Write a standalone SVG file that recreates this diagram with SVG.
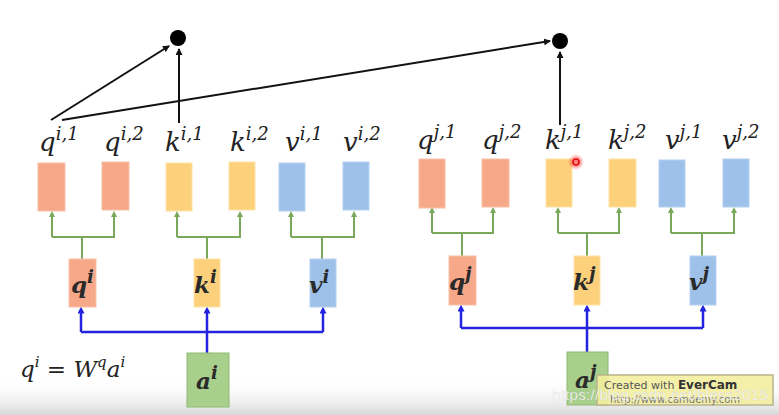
<svg xmlns="http://www.w3.org/2000/svg" width="779" height="415" viewBox="0 0 779 415">
<defs>
<style>
.bq{fill:#f7a888;stroke:#f6c0a8;stroke-width:1}
.bk{fill:#fdd17c;stroke:#fde2a6;stroke-width:1}
.bv{fill:#9ec1ea;stroke:#b5d0f0;stroke-width:1}
.ba{fill:#a8cf8c;stroke:#8fb873;stroke-width:1}
.lbl{font-family:"DejaVu Serif","Liberation Serif",serif;font-style:italic;font-size:26px;fill:#222}
.sup{font-size:18px}
.inb{font-family:"DejaVu Serif","Liberation Serif",serif;font-style:italic;font-weight:bold;font-size:23px;fill:#2a2a2a}
.g{fill:none;stroke:#79a85a;stroke-width:2}
.b{fill:none;stroke:#2424e0;stroke-width:2.5}
.k{fill:none;stroke:#111;stroke-width:2}
</style>
<marker id="ag" markerWidth="6" markerHeight="6" refX="3" refY="3" orient="auto" markerUnits="userSpaceOnUse"><path d="M0,0 L6,3 L0,6 z" fill="#79a85a"/></marker>
<marker id="ab" markerWidth="7" markerHeight="7" refX="3.5" refY="3.5" orient="auto" markerUnits="userSpaceOnUse"><path d="M0,0 L7,3.5 L0,7 z" fill="#2424e0"/></marker>
<marker id="ak" markerWidth="7" markerHeight="7" refX="6" refY="3.5" orient="auto" markerUnits="userSpaceOnUse"><path d="M0,0 L7,3.5 L0,7 z" fill="#111"/></marker>
<linearGradient id="shade" x1="0" y1="0" x2="0" y2="1"><stop offset="0" stop-color="#ffffff" stop-opacity="0"/><stop offset="1" stop-color="#d8d8d8"/></linearGradient>
<radialGradient id="glow"><stop offset="0.4" stop-color="#ff3030" stop-opacity="0.6"/><stop offset="1" stop-color="#ff3030" stop-opacity="0"/></radialGradient>
</defs>
<rect width="779" height="415" fill="#ffffff"/>
<rect x="0" y="378" width="779" height="37" fill="url(#shade)"/>

<g id="connectors">
<line class="k" x1="51" y1="120" x2="169" y2="46" marker-end="url(#ak)"/>
<line class="k" x1="62" y1="120" x2="550" y2="41" marker-end="url(#ak)"/>
<line class="k" x1="179" y1="123" x2="179" y2="49" marker-end="url(#ak)"/>
<line class="k" x1="560" y1="125" x2="560" y2="52" marker-end="url(#ak)"/>
<path class="g" d="M82,259 V237 M52,237 H115"/>
<path class="g" d="M52,237 V214" marker-end="url(#ag)"/>
<path class="g" d="M114,237 V214" marker-end="url(#ag)"/>
<path class="g" d="M207,259 V237 M177,237 H241"/>
<path class="g" d="M177,237 V214" marker-end="url(#ag)"/>
<path class="g" d="M240,237 V214" marker-end="url(#ag)"/>
<path class="g" d="M322,259 V237 M291,237 H355"/>
<path class="g" d="M291,237 V214" marker-end="url(#ag)"/>
<path class="g" d="M354,237 V214" marker-end="url(#ag)"/>
<path class="g" d="M462,256 V233 M432,233 H494"/>
<path class="g" d="M432,233 V210" marker-end="url(#ag)"/>
<path class="g" d="M493,233 V210" marker-end="url(#ag)"/>
<path class="g" d="M587,256 V233 M558,233 H620"/>
<path class="g" d="M558,233 V210" marker-end="url(#ag)"/>
<path class="g" d="M619,233 V210" marker-end="url(#ag)"/>
<path class="g" d="M702,256 V233 M671,233 H735"/>
<path class="g" d="M671,233 V210" marker-end="url(#ag)"/>
<path class="g" d="M734,233 V210" marker-end="url(#ag)"/>
<path class="b" d="M81,332 H323 M207,353 V332"/>
<path class="b" d="M81,332 V310" marker-end="url(#ab)"/>
<path class="b" d="M207,332 V310" marker-end="url(#ab)"/>
<path class="b" d="M323,332 V310" marker-end="url(#ab)"/>
<path class="b" d="M461,328 H703 M587,352 V328"/>
<path class="b" d="M461,328 V308" marker-end="url(#ab)"/>
<path class="b" d="M587,328 V308" marker-end="url(#ab)"/>
<path class="b" d="M703,328 V308" marker-end="url(#ab)"/>
</g>

<g id="dot-i"><circle cx="178" cy="38" r="8" fill="#000"/></g>
<g id="dot-j"><circle cx="560" cy="41" r="8" fill="#000"/></g>

<g id="qi1"><rect class="bq" x="38" y="163" width="27" height="48"/><text class="lbl" x="39" y="151">q<tspan class="sup" dy="-11">i,1</tspan></text></g>
<g id="qi2"><rect class="bq" x="102" y="162" width="27" height="48"/><text class="lbl" x="104" y="151">q<tspan class="sup" dy="-11">i,2</tspan></text></g>
<g id="ki1"><rect class="bk" x="166" y="163" width="26" height="48"/><text class="lbl" x="165" y="151">k<tspan class="sup" dy="-11">i,1</tspan></text></g>
<g id="ki2"><rect class="bk" x="229" y="162" width="26" height="48"/><text class="lbl" x="230" y="151">k<tspan class="sup" dy="-11">i,2</tspan></text></g>
<g id="vi1"><rect class="bv" x="279" y="163" width="26" height="48"/><text class="lbl" x="285" y="151">v<tspan class="sup" dy="-11">i,1</tspan></text></g>
<g id="vi2"><rect class="bv" x="343" y="162" width="26" height="48"/><text class="lbl" x="343" y="151">v<tspan class="sup" dy="-11">i,2</tspan></text></g>

<g id="qj1"><rect class="bq" x="419" y="159" width="26" height="49"/><text class="lbl" x="417" y="149">q<tspan class="sup" dy="-11">j,1</tspan></text></g>
<g id="qj2"><rect class="bq" x="482" y="159" width="27" height="48"/><text class="lbl" x="482" y="149">q<tspan class="sup" dy="-11">j,2</tspan></text></g>
<g id="kj1"><rect class="bk" x="546" y="159" width="26" height="48"/><text class="lbl" x="545" y="149">k<tspan class="sup" dy="-11">j,1</tspan></text></g>
<g id="kj2"><rect class="bk" x="609" y="159" width="27" height="48"/><text class="lbl" x="608" y="149">k<tspan class="sup" dy="-11">j,2</tspan></text></g>
<g id="vj1"><rect class="bv" x="659" y="160" width="26" height="47"/><text class="lbl" x="665" y="149">v<tspan class="sup" dy="-11">j,1</tspan></text></g>
<g id="vj2"><rect class="bv" x="723" y="159" width="26" height="48"/><text class="lbl" x="722" y="149">v<tspan class="sup" dy="-11">j,2</tspan></text></g>

<g id="qi"><rect class="bq" x="69" y="259" width="27" height="48"/><text class="inb" x="71" y="293">q<tspan class="sup" dy="-10">i</tspan></text></g>
<g id="ki"><rect class="bk" x="194" y="259" width="26" height="48"/><text class="inb" x="194" y="293">k<tspan class="sup" dy="-10">i</tspan></text></g>
<g id="vi"><rect class="bv" x="310" y="259" width="26" height="48"/><text class="inb" x="309" y="293">v<tspan class="sup" dy="-10">i</tspan></text></g>
<g id="qj"><rect class="bq" x="449" y="256" width="27" height="49"/><text class="inb" x="449" y="290">q<tspan class="sup" dy="-10">j</tspan></text></g>
<g id="kj"><rect class="bk" x="574" y="256" width="26" height="49"/><text class="inb" x="573" y="290">k<tspan class="sup" dy="-10">j</tspan></text></g>
<g id="vj"><rect class="bv" x="690" y="256" width="26" height="49"/><text class="inb" x="689" y="290">v<tspan class="sup" dy="-10">j</tspan></text></g>

<g id="ai"><rect class="ba" x="187" y="353" width="42" height="54"/><text class="inb" x="196" y="389">a<tspan class="sup" dy="-10">i</tspan></text></g>
<g id="aj"><rect class="ba" x="567" y="352" width="41" height="53"/><text class="inb" x="575" y="388">a<tspan class="sup" dy="-10">j</tspan></text></g>

<g id="formula"><text class="lbl" style="font-size:23px" x="20" y="377">q<tspan class="sup" style="font-size:15px" dy="-10">i</tspan><tspan dy="10"> = W</tspan><tspan class="sup" style="font-size:15px" dy="-10">q</tspan><tspan dy="10">a</tspan><tspan class="sup" style="font-size:15px" dy="-10">i</tspan></text></g>

<g id="cursor"><circle cx="576" cy="162" r="8" fill="url(#glow)"/><circle cx="576" cy="162" r="3" fill="none" stroke="#e01010" stroke-width="1.6"/></g>

<g id="watermark">
<rect x="597" y="375" width="176" height="30" fill="#f3eea0" fill-opacity="0.9" stroke="#b9b48a" stroke-width="1.5"/>
<text x="604" y="389" font-family="'DejaVu Sans',sans-serif" font-size="11" fill="#555">Created with <tspan font-weight="bold" fill="#333" font-size="12">EverCam</tspan></text>
<text x="610" y="403" font-family="'DejaVu Sans',sans-serif" font-size="10" fill="#777">http://www.camdemy.com</text>
<text x="552" y="400" font-family="'Liberation Sans',Arial,sans-serif" font-size="15" fill="#ffffff" fill-opacity="0.85" stroke="#999" stroke-opacity="0.3" stroke-width="0.5" textLength="216">https://blog.csdn.net/bless2015</text>
</g>
</svg>
